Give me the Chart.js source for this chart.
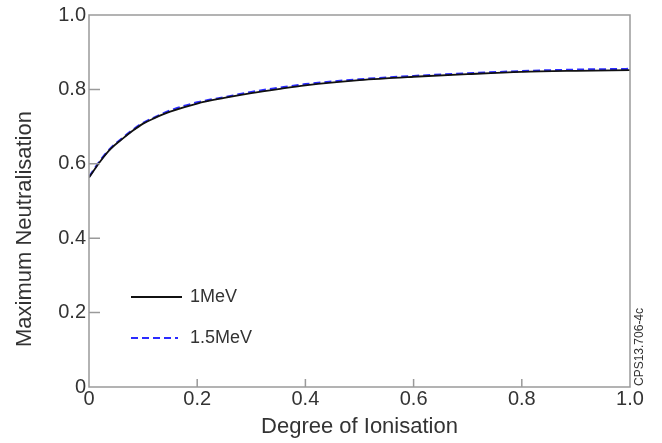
<!DOCTYPE html>
<html>
<head>
<meta charset="utf-8">
<script src="https://cdn.jsdelivr.net/npm/chart.js@4/dist/chart.umd.min.js"></script>
<style>
  body { margin: 0; background: #fff; }
  #wrap { width: 662px; height: 443px; }
</style>
</head>
<body>
<div id="wrap"><canvas id="myChart" width="662" height="443"></canvas></div>
<script>
// Degree of ionisation (x) and maximum neutralisation for each energy
var ionisation = [0, 0.02, 0.04, 0.06, 0.08, 0.1, 0.12, 0.15, 0.2, 0.25, 0.3, 0.35, 0.4, 0.5, 0.6, 0.7, 0.8, 0.9, 1.0];
var neut1MeV = [0.563, 0.605, 0.640, 0.665, 0.688, 0.708, 0.722, 0.740, 0.762, 0.777, 0.790, 0.801, 0.811, 0.825, 0.834, 0.841, 0.847, 0.850, 0.852];
var neut15MeV = [0.565, 0.607, 0.642, 0.667, 0.690, 0.710, 0.724, 0.743, 0.765, 0.779, 0.793, 0.804, 0.814, 0.827, 0.836, 0.843, 0.849, 0.853, 0.855];
var seriesNames = ['1MeV', '1.5MeV'];

var FONT = 'Arial, "Liberation Sans", sans-serif';

function points(ys) {
  return ionisation.map(function (x, i) { return { x: x, y: ys[i] }; });
}

function tickText(v) {
  return v === 0 ? '0' : Number(v).toFixed(1);
}

// box, inward ticks, legend inside the plot, side note
var extras = {
  id: 'extras',
  afterDatasetsDraw: function (chart) {
    var ctx = chart.ctx, a = chart.chartArea;
    var xs = chart.scales.x, ys = chart.scales.y;
    ctx.save();
    ctx.strokeStyle = '#9a9a9a';
    ctx.lineWidth = 1.5;
    ctx.strokeRect(a.left, a.top, a.right - a.left, a.bottom - a.top);

    ctx.beginPath();
    ys.ticks.forEach(function (t, i) {
      if (i === 0 || i === ys.ticks.length - 1) return;
      var py = ys.getPixelForValue(t.value);
      ctx.moveTo(a.left, py);
      ctx.lineTo(a.left + 11, py);
    });
    xs.ticks.forEach(function (t, i) {
      if (i === 0 || i === xs.ticks.length - 1) return;
      var px = xs.getPixelForValue(t.value);
      ctx.moveTo(px, a.bottom);
      ctx.lineTo(px, a.bottom - 8);
    });
    ctx.stroke();

    // legend
    var rows = [297, 338];
    chart.data.datasets.forEach(function (ds, i) {
      ctx.strokeStyle = ds.borderColor;
      ctx.lineWidth = ds.borderWidth;
      ctx.setLineDash(ds.borderDash || []);
      ctx.beginPath();
      ctx.moveTo(131, rows[i]);
      ctx.lineTo(i === 0 ? 182 : 178, rows[i]);
      ctx.stroke();
      ctx.setLineDash([]);
      ctx.fillStyle = '#333';
      ctx.font = '18px ' + FONT;
      ctx.textAlign = 'left';
      ctx.textBaseline = 'middle';
      ctx.fillText(ds.label, 190, rows[i]);
    });

    // y axis title
    ctx.save();
    ctx.translate(25, 229);
    ctx.rotate(-Math.PI / 2);
    ctx.fillStyle = '#333';
    ctx.font = '22px ' + FONT;
    ctx.textAlign = 'center';
    ctx.textBaseline = 'middle';
    ctx.fillText('Maximum Neutralisation', 0, 0);
    ctx.restore();

    // side note
    ctx.save();
    ctx.translate(640, a.bottom);
    ctx.rotate(-Math.PI / 2);
    ctx.fillStyle = '#333';
    ctx.font = '12px ' + FONT;
    ctx.textAlign = 'left';
    ctx.textBaseline = 'middle';
    ctx.fillText('CPS13.706-4c', 1, 0);
    ctx.restore();

    ctx.restore();
  }
};

window.onload = function () {
  var ctx = document.getElementById('myChart');
  new Chart(ctx, {
    type: 'line',
    data: {
      datasets: [{
        label: seriesNames[0],
        data: points(neut1MeV),
        borderColor: '#111',
        borderWidth: 1.8,
        pointRadius: 0,
        cubicInterpolationMode: 'monotone'
      }, {
        label: seriesNames[1],
        data: points(neut15MeV),
        borderColor: '#2b2bff',
        borderWidth: 2.2,
        borderDash: [7, 4],
        pointRadius: 0,
        cubicInterpolationMode: 'monotone'
      }]
    },
    options: {
      responsive: false,
      animation: false,
      layout: { padding: { top: 14, right: 32, left: 0, bottom: 0 } },
      plugins: { legend: { display: false }, tooltip: { enabled: false } },
      scales: {
        x: {
          type: 'linear',
          min: 0,
          max: 1,
          afterFit: function (s) { s.height = 56; },
          grid: { display: false, drawTicks: false },
          border: { display: false },
          ticks: {
            stepSize: 0.2,
            padding: 0,
            maxRotation: 0,
            color: '#333',
            font: { family: FONT, size: 20 },
            callback: tickText
          },
          title: {
            display: true,
            text: 'Degree of Ionisation',
            color: '#333',
            font: { family: FONT, size: 22 },
            padding: { top: 0, bottom: 3 }
          }
        },
        y: {
          min: 0,
          max: 1,
          afterFit: function (s) { s.width = 89; },
          grid: { display: false, drawTicks: false },
          border: { display: false },
          ticks: {
            stepSize: 0.2,
            padding: 3,
            color: '#333',
            font: { family: FONT, size: 20 },
            callback: tickText
          }
        }
      }
    },
    plugins: [extras]
  });
};
</script>
</body>
</html>
